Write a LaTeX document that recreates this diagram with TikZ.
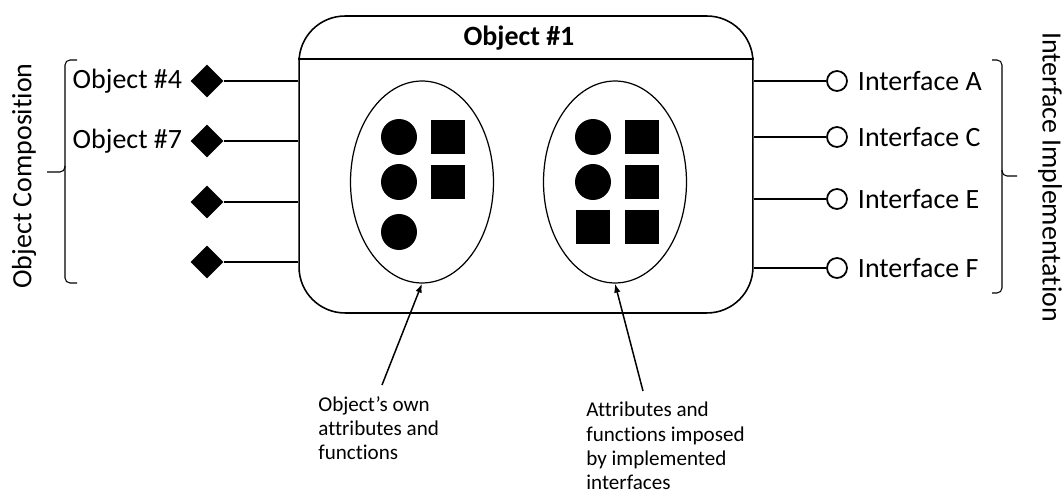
\documentclass[tikz,border=0pt]{standalone}
\usepackage{fontspec}
\setmainfont{Carlito}[Ligatures=NoCommon]
\usetikzlibrary{arrows.meta,positioning,shapes.geometric}

\begin{document}
\begin{tikzpicture}[x=0.02cm, y=-0.02cm, node distance=0.12cm,
      >={Latex[length=0.18cm,width=0.13cm]},
      every node/.append style={font=\fontsize{15.9}{19}\selectfont},
      obj/.style={draw, line width=0.9pt, rounded corners=0.92cm,
                  minimum width=9.08cm, minimum height=5.94cm},
      grp/.style={draw, ellipse, line width=0.7pt,
                  minimum width=2.86cm, minimum height=4.04cm},
      dot/.style={circle, fill, minimum size=0.72cm, inner sep=0pt},
      blk/.style={fill, minimum size=0.70cm, inner sep=0pt},
      comp/.style={diamond, fill, minimum size=0.66cm, inner sep=0pt},
      sock/.style={circle, draw, line width=1pt, fill=white,
                   minimum size=0.4cm, inner sep=0pt},
      wire/.style={line width=1.4pt},
      brc/.style={line width=0.6pt, rounded corners=0.1cm},
      lbl/.style={inner sep=1pt},
      note/.style={align=left, inner sep=0pt, anchor=north west,
                   font=\fontsize{12}{13.7}\selectfont}]

  \useasboundingbox (0,0) rectangle (1063,493);

  % the object and its header
  \node[obj] (box) at (526,164.5) {};
  \node[font=\bfseries\fontsize{15.9}{19}\selectfont] (title) at (519,38) {Object \#1};
  \coordinate (hdr) at (526,59);
  \draw[line width=0.9pt] (hdr -| box.west) -- (hdr -| box.east);

  % own members
  \node[grp] (own) at (422,182) {};
  \node[dot] (o1) at (399,137) {};
  \node[dot] (o2) at (399,182) {};
  \node[dot] (o3) at (399,232) {};
  \node[blk] (o4) at (448,137) {};
  \node[blk] (o5) at (448,182) {};

  % members from the interfaces
  \node[grp] (imp) at (615,182) {};
  \node[dot] (m1) at (593,137) {};
  \node[dot] (m2) at (593,182) {};
  \node[blk] (m3) at (593,227) {};
  \node[blk] (m4) at (642,137) {};
  \node[blk] (m5) at (642,182) {};
  \node[blk] (m6) at (642,227) {};

  % composition on the left
  \foreach \y [count=\i] in {81,141,202,262} {
    \node[comp] (c\i) at (207,\y) {};
    \draw[wire] (c\i) -- (c\i -| box.west);
  }
  \node[lbl, left=of c1] (n4) {Object \#4};
  \node[lbl, left=of c2] (n7) {Object \#7};
  \draw[brc] (77,60) -| (65,283) -- (77,283);
  \draw[brc] (65,166) |- (47,172);
  \node[rotate=90] (compo) at (24,176) {Object Composition};

  % interfaces on the right
  \foreach \y/\t [count=\i] in {81/A,137/C,199/E,268/F} {
    \node[sock] (s\i) at (837,\y) {};
    \node[lbl, right=0.16cm of s\i] (if\i) {Interface \t};
    \draw[wire] (s\i) -- (s\i -| box.east);
  }
  \draw[brc] (992,60) -| (1002,293) -- (992,293);
  \draw[brc] (1002,170) |- (1017,176);
  \node[rotate=-90] (impl) at (1050,177) {Interface Implementation};

  % notes under the object
  \node[note] (ownlbl) at (318,396) {Object’s own\\attributes and\\functions};
  \node[note] (implbl) at (586,402) {Attributes and\\functions imposed\\by implemented\\interfaces};
  \coordinate (t1) at (382,385);
  \coordinate (t2) at (643,391);
  \draw[->, line width=0.85pt] (t1) -- (own.south);
  \draw[->, line width=0.85pt] (t2) -- (imp.south);

\end{tikzpicture}
\end{document}
